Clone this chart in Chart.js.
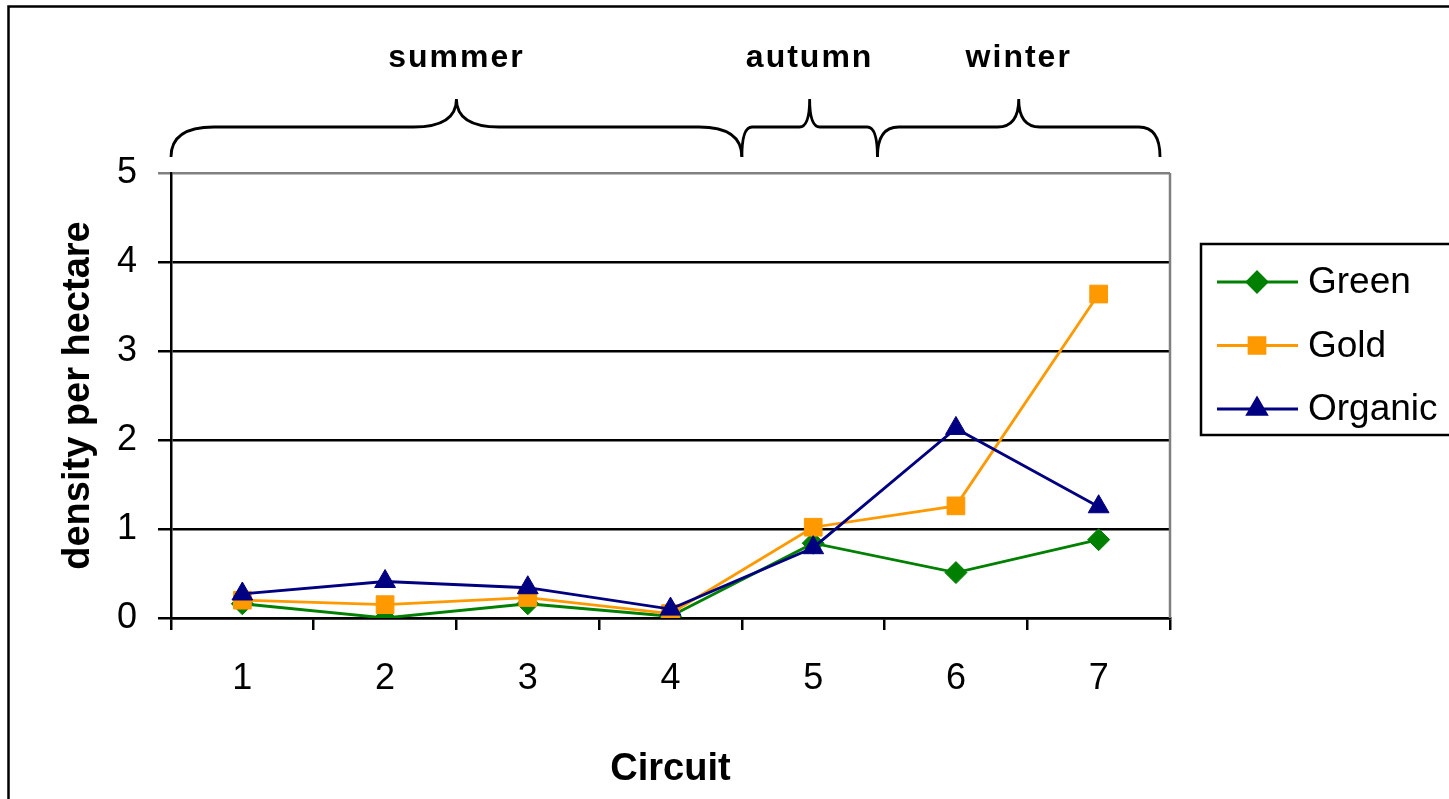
<!DOCTYPE html>
<html>

<head>
  <title>Density per hectare by circuit</title>
  <script src="https://cdn.jsdelivr.net/npm/chart.js"></script>
  <style>
    body { margin: 0; background: #fff; }
    #wrap { width: 1449px; height: 799px; position: relative; }
  </style>
</head>

<body>
  <div id="wrap"><canvas id="densityChart"></canvas></div>
  <script>
    // circuits and densities per hectare
    var circuits = ['1', '2', '3', '4', '5', '6', '7'];
    var green = [0.16, 0.00, 0.16, 0.02, 0.84, 0.51, 0.88];
    var gold = [0.20, 0.15, 0.23, 0.05, 1.02, 1.26, 3.64];
    var organic = [0.27, 0.41, 0.34, 0.10, 0.79, 2.13, 1.25];
    var yTicks = [0, 1, 2, 3, 4, 5];

    // seasons spanned by the circuits (in category units)
    var seasons = ['summer', 'autumn', 'winter'];
    var seasonFrom = [-0.5, 3.5, 4.45];
    var seasonTo = [3.5, 4.45, 6.43];

    var FONT = '"Liberation Sans", Arial, sans-serif';
    Chart.defaults.font.family = FONT;
    Chart.defaults.color = '#000';

    // white page plus the outer frame
    var framePlugin = {
      id: 'frame',
      beforeDraw: function (chart) {
        var c = chart.ctx;
        c.save();
        c.fillStyle = '#fff';
        c.fillRect(0, 0, chart.width, chart.height);
        c.strokeStyle = '#000';
        c.lineWidth = 2.5;
        c.strokeRect(8.5, 6.5, chart.width + 50, chart.height + 50);
        c.restore();
      },
      beforeDatasetsDraw: function (chart) {
        // grey right edge of the plot area
        var a = chart.chartArea, c = chart.ctx;
        c.save();
        c.strokeStyle = '#808080';
        c.lineWidth = 2.5;
        c.beginPath();
        c.moveTo(a.right, a.top);
        c.lineTo(a.right, a.bottom);
        c.stroke();
        c.restore();
      }
    };

    // curly braces with season names above the plot
    var seasonPlugin = {
      id: 'seasons',
      afterDraw: function (chart) {
        var x = chart.scales.x, c = chart.ctx;
        var yEnd = 157, yBase = 127, yTip = 99;
        c.save();
        c.strokeStyle = '#000';
        c.lineWidth = 2.8;
        c.fillStyle = '#000';
        c.font = 'bold 32px ' + FONT;
        c.letterSpacing = '2px';
        c.textAlign = 'center';
        c.textBaseline = 'alphabetic';
        for (var i = 0; i < seasons.length; i++) {
          var x0 = x.getPixelForValue(seasonFrom[i]);
          var x1 = x.getPixelForValue(seasonTo[i]);
          var xm = (x0 + x1) / 2;
          var r = (x1 - x0) * 0.075;
          c.beginPath();
          c.moveTo(x0, yEnd);
          c.quadraticCurveTo(x0, yBase, x0 + r, yBase);
          c.lineTo(xm - r, yBase);
          c.quadraticCurveTo(xm, yBase, xm, yTip);
          c.quadraticCurveTo(xm, yBase, xm + r, yBase);
          c.lineTo(x1 - r, yBase);
          c.quadraticCurveTo(x1, yBase, x1, yEnd);
          c.stroke();
          c.fillText(seasons[i], xm, 67);
        }
        c.restore();
      }
    };

    // boxed legend on the right
    var legendPlugin = {
      id: 'boxLegend',
      afterDraw: function (chart) {
        var c = chart.ctx;
        var left = 1201, top = 244;
        c.save();
        c.strokeStyle = '#000';
        c.lineWidth = 2.5;
        c.strokeRect(left, top, 400, 191);
        chart.data.datasets.forEach(function (ds, i) {
          var y = 282 + i * 63.5;
          c.strokeStyle = ds.borderColor;
          c.lineWidth = 2.8;
          c.beginPath();
          c.moveTo(1217, y);
          c.lineTo(1298, y);
          c.stroke();
          c.fillStyle = ds.backgroundColor;
          Chart.helpers.drawPoint(c, {
            pointStyle: ds.pointStyle,
            radius: ds.pointRadius * 0.9,
            rotation: 0,
            borderWidth: 1
          }, 1257, y);
          c.fill();
          c.fillStyle = '#000';
          c.font = '37px ' + FONT;
          c.textAlign = 'left';
          c.textBaseline = 'middle';
          c.fillText(ds.label, 1308, y + 1);
        });
        c.restore();
      }
    };

    function series(label, data, color, style, radius, order) {
      return {
        label: label,
        data: data,
        borderColor: color,
        backgroundColor: color,
        borderWidth: 2.8,
        pointStyle: style,
        pointRadius: radius,
        pointBorderWidth: 1,
        pointBackgroundColor: color,
        pointBorderColor: color,
        tension: 0,
        order: order
      };
    }

    var ctx = document.getElementById('densityChart').getContext('2d');
    var chart = new Chart(ctx, {
      type: 'line',
      data: {
        labels: circuits,
        datasets: [
          series('Green', green, '#008000', 'rectRot', 11, 2),
          series('Gold', gold, '#FF9900', 'rect', 12.5, 1),
          series('Organic', organic, '#000080', 'triangle', 12, 0)
        ]
      },
      plugins: [framePlugin, seasonPlugin, legendPlugin],
      options: {
        responsive: true,
        maintainAspectRatio: false,
        animation: false,
        layout: { padding: { left: 0, top: 173, right: 279, bottom: 0 } },
        plugins: {
          legend: { display: false },
          tooltip: { enabled: false }
        },
        scales: {
          x: {
            type: 'category',
            offset: true,
            afterFit: function (s) { s.height = 181; },
            grid: {
              offset: true,
              drawOnChartArea: false,
              drawTicks: true,
              tickLength: 12,
              color: '#000',
              lineWidth: 2.5
            },
            border: { display: true, color: '#000', width: 2.5 },
            ticks: { font: { size: 36 }, padding: 27, color: '#000' },
            title: {
              display: true,
              text: 'Circuit',
              font: { size: 38, weight: 'bold' },
              padding: { top: 0, bottom: 7 },
              color: '#000'
            }
          },
          y: {
            min: 0,
            max: 5,
            afterFit: function (s) { s.width = 171; },
            afterBuildTicks: function (s) {
              s.ticks = yTicks.map(function (v) { return { value: v }; });
            },
            grid: {
              color: function (c) { return c.tick && c.tick.value === 5 ? '#808080' : '#000'; },
              lineWidth: 2.5,
              tickLength: 13,
              drawTicks: true
            },
            border: { display: true, color: '#000', width: 2.5 },
            ticks: { font: { size: 36 }, padding: 21, color: '#000' },
            title: {
              display: true,
              text: 'density per hectare',
              font: { size: 38, weight: 'bold' },
              padding: { top: 56, bottom: 0 },
              color: '#000'
            }
          }
        }
      }
    });
  </script>
</body>

</html>
